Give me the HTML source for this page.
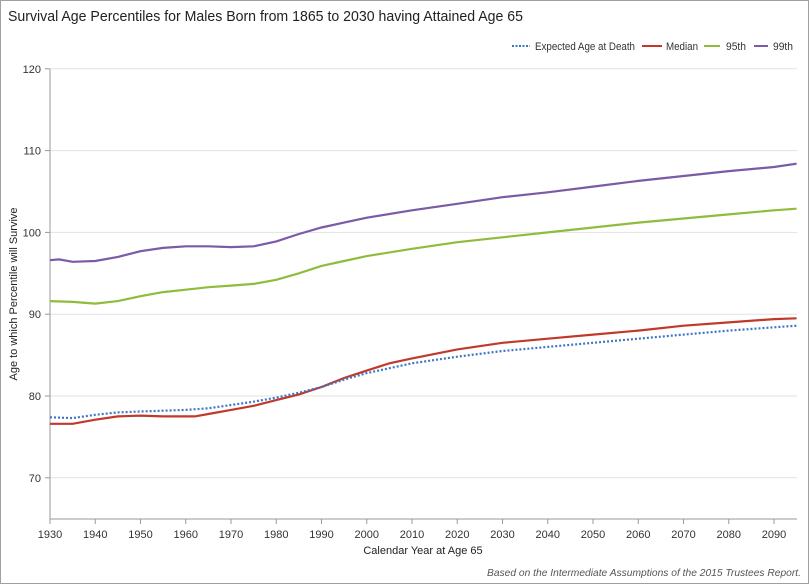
<!DOCTYPE html>
<html><head><meta charset="utf-8"><style>
html,body{margin:0;padding:0;background:#fff}
body{width:809px;height:584px;overflow:hidden}
svg{display:block;font-family:"Liberation Sans",sans-serif}
</style></head><body>
<svg id="s" width="809" height="584" viewBox="0 0 809 584">
<rect x="0.5" y="0.5" width="808" height="583" fill="#fff" stroke="#a0a0a0"/>
<text x="8" y="21" font-size="15" fill="#222" textLength="515" lengthAdjust="spacingAndGlyphs">Survival Age Percentiles for Males Born from 1865 to 2030 having Attained Age 65</text>
<g font-size="11" fill="#333">
<line x1="512" y1="46" x2="530" y2="46" stroke="#3f76c4" stroke-width="2" stroke-dasharray="2,1.5"/>
<text x="535" y="50" textLength="100" lengthAdjust="spacingAndGlyphs">Expected Age at Death</text>
<line x1="642" y1="46" x2="662" y2="46" stroke="#c0392b" stroke-width="2"/>
<text x="666" y="50" textLength="32" lengthAdjust="spacingAndGlyphs">Median</text>
<line x1="704" y1="46" x2="720" y2="46" stroke="#8fbc3c" stroke-width="2"/>
<text x="726" y="50" textLength="20" lengthAdjust="spacingAndGlyphs">95th</text>
<line x1="754" y1="46" x2="768" y2="46" stroke="#7b5aa6" stroke-width="2"/>
<text x="773" y="50" textLength="20" lengthAdjust="spacingAndGlyphs">99th</text>
</g>
<g id="grid"></g>
<line x1="50" y1="69" x2="50" y2="519" stroke="#999"/>
<line x1="50" y1="519" x2="797" y2="519" stroke="#999"/>
<g id="lines"></g>
<text transform="translate(17,294) rotate(-90)" text-anchor="middle" font-size="11" fill="#222">Age to which Percentile will Survive</text>
<text x="423" y="554" text-anchor="middle" font-size="11" fill="#222">Calendar Year at Age 65</text>
<text x="801" y="576" text-anchor="end" font-size="10.5" font-style="italic" fill="#555" textLength="314" lengthAdjust="spacingAndGlyphs">Based on the Intermediate Assumptions of the 2015 Trustees Report.</text>
</svg>
<script>
function X(y){return 50+(y-1930)*4.525}
function Y(v){return 396-(v-80)*8.18}
var g=document.getElementById('grid'),h='';
for(var v=70;v<=120;v+=10){var y=Y(v);h+='<line x1="50" y1="'+y+'" x2="797" y2="'+y+'" stroke="#e2e2e2"/><line x1="45" y1="'+y+'" x2="50" y2="'+y+'" stroke="#999"/><text x="41" y="'+(y+4)+'" text-anchor="end" font-size="11" fill="#333">'+v+'</text>';}
for(var yr=1930;yr<=2090;yr+=10){var x=X(yr);h+='<line x1="'+x+'" y1="519" x2="'+x+'" y2="524" stroke="#999"/><text x="'+x+'" y="538" text-anchor="middle" font-size="11" fill="#333">'+yr+'</text>';}
g.innerHTML=h;
var d={
p99:[[1930,96.6],[1932,96.7],[1935,96.4],[1940,96.5],[1945,97],[1950,97.7],[1955,98.1],[1960,98.3],[1965,98.3],[1970,98.2],[1975,98.3],[1980,98.9],[1985,99.8],[1990,100.6],[1995,101.2],[2000,101.8],[2010,102.7],[2020,103.5],[2030,104.3],[2040,104.9],[2050,105.6],[2060,106.3],[2070,106.9],[2080,107.5],[2090,108.0],[2095,108.4]],
p95:[[1930,91.6],[1935,91.5],[1940,91.3],[1945,91.6],[1950,92.2],[1955,92.7],[1960,93.0],[1965,93.3],[1970,93.5],[1975,93.7],[1980,94.2],[1985,95.0],[1990,95.9],[1995,96.5],[2000,97.1],[2010,98.0],[2020,98.8],[2030,99.4],[2040,100.0],[2050,100.6],[2060,101.2],[2070,101.7],[2080,102.2],[2090,102.7],[2095,102.9]],
med:[[1930,76.6],[1935,76.6],[1940,77.1],[1945,77.5],[1950,77.6],[1955,77.5],[1960,77.5],[1962,77.5],[1965,77.8],[1970,78.3],[1975,78.8],[1980,79.5],[1985,80.2],[1990,81.1],[1995,82.2],[2000,83.1],[2005,84.0],[2010,84.6],[2020,85.7],[2030,86.5],[2040,87.0],[2050,87.5],[2060,88.0],[2070,88.6],[2080,89.0],[2090,89.4],[2095,89.5]],
exp:[[1930,77.4],[1935,77.3],[1940,77.7],[1945,78.0],[1950,78.1],[1960,78.3],[1965,78.5],[1970,78.9],[1975,79.3],[1980,79.8],[1985,80.4],[1990,81.1],[1995,82.0],[2000,82.8],[2010,84.0],[2020,84.8],[2030,85.5],[2040,86.0],[2050,86.5],[2060,87.0],[2070,87.5],[2080,88.0],[2090,88.4],[2095,88.6]]};
function pts(a){return a.map(function(p){return X(p[0]).toFixed(1)+','+Y(p[1]).toFixed(1)}).join(' ')}
var L='';
L+='<polyline points="'+pts(d.p99)+'" fill="none" stroke="#7b5aa6" stroke-width="2.2"/>';
L+='<polyline points="'+pts(d.p95)+'" fill="none" stroke="#8fbc3c" stroke-width="2.2"/>';
L+='<polyline points="'+pts(d.med)+'" fill="none" stroke="#c0392b" stroke-width="2.2"/>';
L+='<polyline points="'+pts(d.exp)+'" fill="none" stroke="#3f76c4" stroke-width="2.2" stroke-dasharray="2,2"/>';
document.getElementById('lines').innerHTML=L;
</script>
</body></html>
